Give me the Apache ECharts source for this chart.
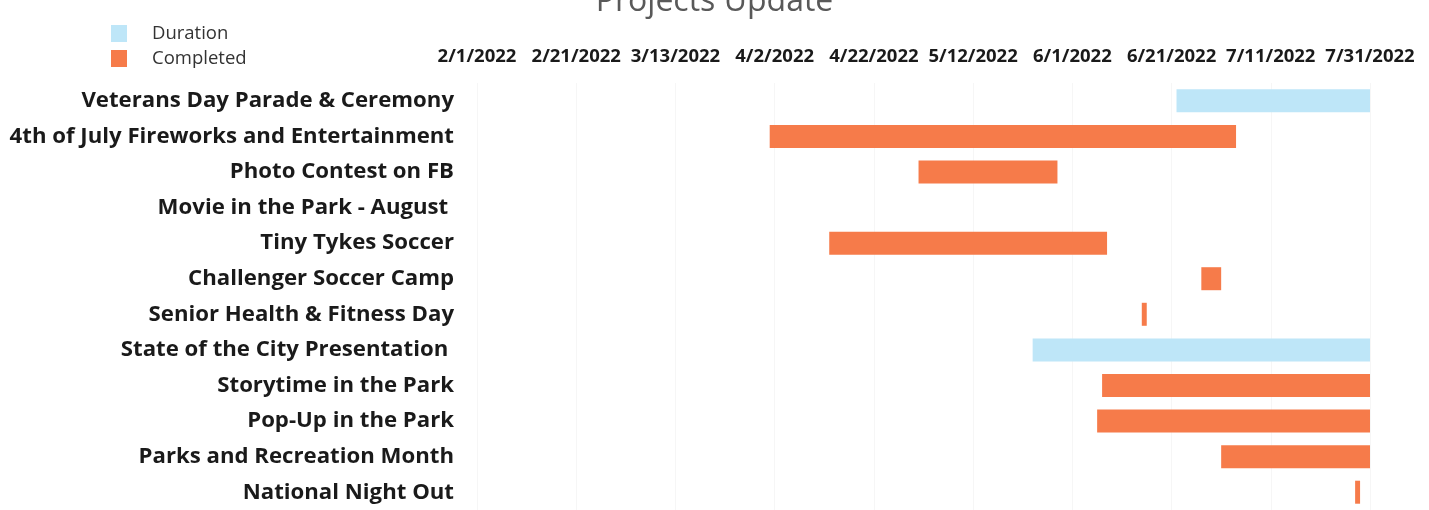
<!DOCTYPE html>
<html>
<head>
<meta charset="utf-8">
<script src="https://cdn.jsdelivr.net/npm/echarts@6/dist/echarts.min.js"></script>
<style>
html,body{margin:0;padding:0;background:#fff;}
#chart{width:1429px;height:510px;}
</style>
</head>
<body>
<div id="chart"></div>
<script>
// ---- data ----
const categories = [
  "Veterans Day Parade & Ceremony",
  "4th of July Fireworks and Entertainment",
  "Photo Contest on FB",
  "Movie in the Park - August ",
  "Tiny Tykes Soccer",
  "Challenger Soccer Camp",
  "Senior Health & Fitness Day",
  "State of the City Presentation ",
  "Storytime in the Park",
  "Pop-Up in the Park",
  "Parks and Recreation Month",
  "National Night Out"
];
// status per project: "Duration" (in progress / planned) or "Completed"; null = no bar
const status = ["Duration","Completed","Completed",null,"Completed","Completed","Completed","Duration","Completed","Completed","Completed","Completed"];
const startDates = ["2022-06-22","2022-04-01","2022-05-01",null,"2022-04-13","2022-06-27","2022-06-15","2022-05-24","2022-06-07","2022-06-06","2022-07-01","2022-07-28"];
const endDates   = ["2022-07-31","2022-07-04","2022-05-29",null,"2022-06-08","2022-07-01","2022-06-16","2022-07-31","2022-07-31","2022-07-31","2022-07-31","2022-07-29"];
const tickLabels = ["2/1/2022","2/21/2022","3/13/2022","4/2/2022","4/22/2022","5/12/2022","6/1/2022","6/21/2022","7/11/2022","7/31/2022"];
const axisStart = "2022-02-01";
const tickStepDays = 20;

// ---- build ----
const DAY = 86400000;
function dayOffset(s){ return Math.round((Date.parse(s + "T00:00:00Z") - Date.parse(axisStart + "T00:00:00Z")) / DAY); }
const base = startDates.map(s => s ? dayOffset(s) : 0);
const durData = categories.map((c,i) => status[i] === "Duration" ? dayOffset(endDates[i]) - dayOffset(startDates[i]) : '-');
const compData = categories.map((c,i) => status[i] === "Completed" ? dayOffset(endDates[i]) - dayOffset(startDates[i]) : '-');
const maxDay = tickStepDays * (tickLabels.length - 1);

const chart = echarts.init(document.getElementById('chart'), null, {renderer:'canvas'});
const FONT = '"Open Sans", Lato, sans-serif';
chart.setOption({
  animation:false,
  backgroundColor:'#ffffff',
  title:{
    text:'Projects Update', left:'center', top:-19,
    textStyle:{fontFamily:FONT, fontSize:32, fontWeight:'normal', color:'#595959'}
  },
  legend:{
    orient:'vertical', left:106, top:19, itemGap:6,
    itemWidth:16, itemHeight:17, icon:'rect',
    data:['Duration','Completed'],
    textStyle:{fontFamily:FONT, fontSize:18.5, color:'#333', padding:[0,0,0,20]}
  },
  grid:{left:477, width:893, top:83, height:432, containLabel:false},
  xAxis:{
    type:'value', position:'top', min:0, max:maxDay, interval:tickStepDays,
    axisLine:{show:false}, axisTick:{show:false},
    splitLine:{show:true, lineStyle:{color:'#f6f6f6', width:1}},
    axisLabel:{
      margin:17, fontFamily:FONT, fontSize:18.5, fontWeight:'bold', color:'#1a1a1a',
      formatter:function(v){ const i = Math.round(v / tickStepDays); return tickLabels[i] || ''; }
    }
  },
  yAxis:{
    type:'category', data:categories, inverse:true,
    axisLine:{show:false}, axisTick:{show:false}, splitLine:{show:false},
    axisLabel:{margin:23, fontFamily:FONT, fontSize:22.2, fontWeight:'bold', color:'#1a1a1a'}
  },
  series:[
    {name:'base', type:'bar', stack:'g', data:base, barWidth:23,
     itemStyle:{color:'rgba(0,0,0,0)'}, silent:true, legendHoverLink:false},
    {name:'Duration', type:'bar', stack:'g', data:durData, barWidth:23,
     itemStyle:{color:'#bee6f8'}},
    {name:'Completed', type:'bar', stack:'g', data:compData, barWidth:23,
     itemStyle:{color:'#f67b4a'}}
  ]
});
</script>
</body>
</html>
